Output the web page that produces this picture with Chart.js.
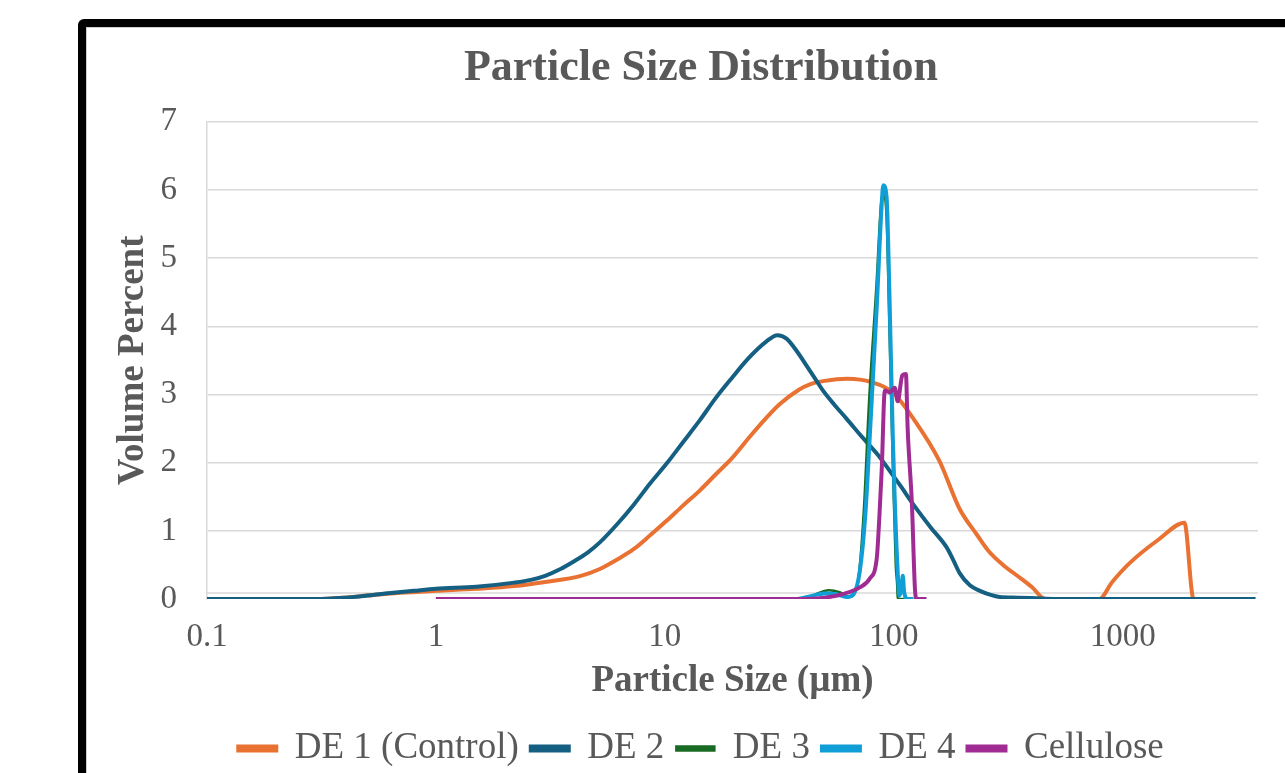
<!DOCTYPE html>
<html>
<head>
<meta charset="utf-8">
<script src="https://cdn.jsdelivr.net/npm/chart.js@4.4.1/dist/chart.umd.min.js"></script>
<style>
  html, body { margin: 0; padding: 0; background: #fff; overflow: hidden; }
  #frame {
    position: absolute; left: 78px; top: 19px;
    width: 1300px; height: 800px;
    border: 8px solid #000; border-radius: 6px;
    box-shadow: inset 0 0 0 1px #cfcfcf;
  }
  #chart { position: absolute; left: 0; top: 0; }
</style>
</head>
<body>
<div id="frame"></div>
<canvas id="chart" width="1285" height="773"></canvas>
<script>
const seriesNames = ["DE 1 (Control)", "DE 2", "DE 3", "DE 4", "Cellulose"];
const seriesColors = ["#E97132", "#156082", "#196B24", "#0F9ED5", "#A02B93"];

// particle size (um) / volume percent
const de1Size = [0.1, 0.2, 0.3, 0.4, 0.5, 0.7, 1, 1.5, 2.2, 3, 4.3, 5.2, 6.2, 7.3, 8.6, 10.2, 12, 14.2, 16.7, 19.7, 23.5, 27.8, 31.8, 38.5, 43, 50, 62.6, 80, 99, 121, 158, 194, 230, 260, 300, 350, 400, 460, 500, 790, 900, 1075, 1445, 1860, 2040, 3800];
const de1Vol  = [0, 0, 0, 0.02, 0.05, 0.09, 0.12, 0.15, 0.19, 0.25, 0.34, 0.44, 0.58, 0.73, 0.93, 1.15, 1.37, 1.59, 1.83, 2.07, 2.38, 2.66, 2.86, 3.07, 3.15, 3.2, 3.23, 3.18, 3.03, 2.66, 2.03, 1.32, 0.95, 0.7, 0.5, 0.33, 0.18, 0, 0, 0, 0.25, 0.53, 0.88, 1.12, 0, 0];

const de2Size = [0.1, 0.2, 0.3, 0.4, 0.5, 0.6, 0.8, 1, 1.5, 2.2, 2.6, 3, 3.5, 4, 4.6, 5.2, 6.2, 7.3, 8.6, 10.2, 12, 14.2, 16.7, 19.7, 23, 27.8, 31, 34, 38, 42, 46, 49, 55, 62, 73, 85, 96, 108, 121, 145, 170, 182, 194, 215, 238, 265, 290, 350, 420, 500, 3800];
const de2Vol  = [0, 0, 0, 0.02, 0.05, 0.08, 0.12, 0.15, 0.18, 0.24, 0.28, 0.34, 0.44, 0.55, 0.68, 0.83, 1.1, 1.38, 1.69, 1.99, 2.3, 2.62, 2.95, 3.25, 3.52, 3.78, 3.87, 3.82, 3.62, 3.4, 3.2, 3.06, 2.85, 2.65, 2.37, 2.12, 1.88, 1.64, 1.4, 1.05, 0.76, 0.57, 0.38, 0.2, 0.12, 0.06, 0.03, 0.02, 0.01, 0, 0];

const de3Size = [1, 38, 44, 52, 58, 64, 70, 74, 78, 84, 88, 90, 93, 96, 99, 102, 103.5, 104, 112];
const de3Vol  = [0, 0, 0.05, 0.13, 0.1, 0.03, 0.3, 1.3, 2.9, 4.6, 5.8, 5.95, 5.6, 3.8, 2.0, 0.5, 0.2, 0, 0];

const de4Size = [1, 38, 42, 50, 56, 63, 67, 71, 75, 78.6, 84.3, 88.6, 90, 93, 96, 99, 104, 106, 108, 109.5, 111, 115, 122];
const de4Vol  = [0, 0, 0.03, 0.08, 0.07, 0.03, 0.08, 0.4, 1.2, 2.4, 4.3, 5.8, 6.07, 5.9, 4.3, 2.4, 0.4, 0.05, 0.15, 0.34, 0.1, 0, 0];

const celSize = [1, 40, 50, 61, 71, 78.6, 84.3, 86.5, 88.6, 91.4, 96, 101, 104, 109, 113, 115, 120, 124, 126, 139];
const celVol  = [0, 0, 0.02, 0.08, 0.17, 0.3, 0.6, 1.2, 1.9, 3.06, 3.03, 3.1, 2.9, 3.28, 3.3, 2.5, 1.4, 0.1, 0, 0];

const xTicks = [0.1, 1, 10, 100, 1000];
const yTicks = [0, 1, 2, 3, 4, 5, 6, 7];

const sizes = [de1Size, de2Size, de3Size, de4Size, celSize];
const vols = [de1Vol, de2Vol, de3Vol, de4Vol, celVol];

const textGray = "#595959";
const gridGray = "#d9d9d9";
const serif = "'Liberation Serif', 'Times New Roman', serif";

const datasets = seriesNames.map((name, i) => ({
  label: name,
  data: sizes[i].map((s, j) => ({ x: s, y: vols[i][j] })),
  borderColor: seriesColors[i],
  backgroundColor: seriesColors[i],
  borderWidth: i === 2 ? 2.5 : 4,
  pointRadius: 0,
  showLine: true,
  fill: false,
  cubicInterpolationMode: "monotone",
  order: 5 - i
}));

// zero gridline sits a little above the data baseline in the original
const zeroLine = {
  id: "zeroLine",
  beforeDatasetsDraw(chart) {
    const { ctx, chartArea, scales } = chart;
    const y = scales.y.getPixelForValue(0) - 6;
    ctx.save();
    ctx.strokeStyle = gridGray;
    ctx.lineWidth = 1.5;
    ctx.beginPath();
    ctx.moveTo(chartArea.left, y);
    ctx.lineTo(chartArea.right, y);
    ctx.stroke();
    ctx.restore();
  }
};

new Chart(document.getElementById("chart"), {
  type: "scatter",
  data: { datasets },
  plugins: [zeroLine],
  options: {
    responsive: false,
    animation: false,
    layout: { padding: { left: 144, right: 27, top: 42, bottom: -4 } },
    scales: {
      x: {
        type: "logarithmic",
        min: 0.1,
        max: 3900,
        afterBuildTicks(scale) {
          scale.ticks = xTicks.map(v => ({ value: v }));
        },
        afterFit(scale) { scale.height = 119; },
        grid: { display: false },
        border: { display: false },
        ticks: {
          color: textGray,
          font: { family: serif, size: 33 },
          padding: 11,
          maxRotation: 0,
          autoSkip: false,
          callback: v => String(v)
        },
        title: {
          display: true,
          text: "Particle Size (µm)",
          color: textGray,
          font: { family: serif, size: 37, weight: "bold" },
          padding: { top: 0, bottom: 14 }
        }
      },
      y: {
        min: 0,
        max: 7,
        afterBuildTicks(scale) {
          scale.ticks = yTicks.map(v => ({ value: v }));
        },
        afterFit(scale) { scale.width = 63; },
        grid: {
          color: ctx => ctx.tick && ctx.tick.value === 0 ? "rgba(0,0,0,0)" : gridGray,
          lineWidth: 1.5,
          drawTicks: false
        },
        border: { display: true, color: gridGray, width: 1.5 },
        ticks: {
          color: textGray,
          font: { family: serif, size: 33 },
          padding: 30
        },
        title: {
          display: true,
          text: "Volume Percent",
          color: textGray,
          font: { family: serif, size: 37, weight: "bold" },
          padding: { top: -33, bottom: 0 }
        }
      }
    },
    plugins: {
      title: {
        display: true,
        text: "Particle Size Distribution",
        color: textGray,
        font: { family: serif, size: 44, weight: "bold" },
        padding: { top: 0, bottom: 27 }
      },
      legend: {
        position: "bottom",
        labels: {
          color: textGray,
          font: { family: serif, size: 37 },
          boxWidth: 38,
          boxHeight: 4,
          padding: 12,
          sort: (a, b) => a.datasetIndex - b.datasetIndex
        }
      },
      tooltip: { enabled: false }
    }
  }
});
</script>
</body>
</html>
